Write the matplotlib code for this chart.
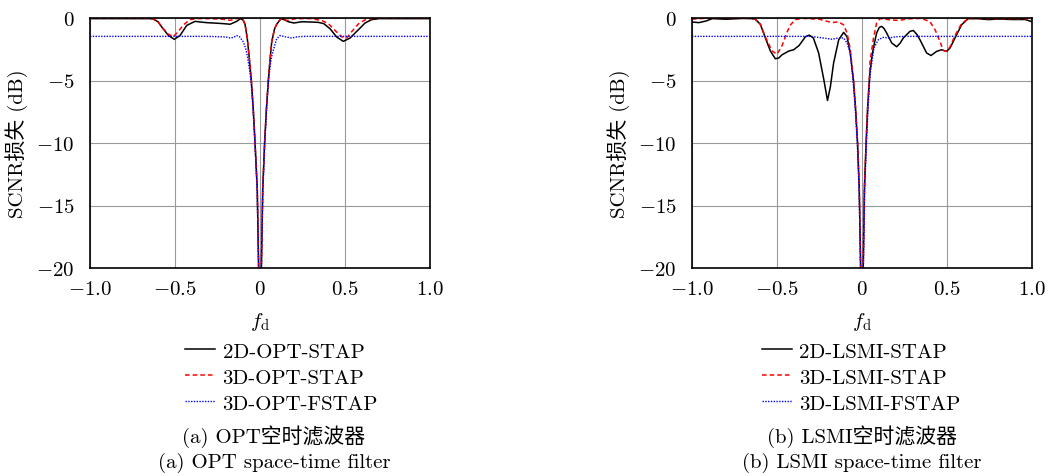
import matplotlib
matplotlib.use("Agg")
import matplotlib.pyplot as plt

plt.rcParams['mathtext.fontset'] = 'cm'
plt.rcParams['font.family'] = ['cmr10', 'Noto Sans CJK SC', 'DejaVu Sans']
plt.rcParams['axes.unicode_minus'] = False

# ---------------- data ----------------
xticks = [-1.0, -0.5, 0.0, 0.5, 1.0]
xtick_labels = [r'$-1.0$', r'$-0.5$', r'$0$', r'$0.5$', r'$1.0$']
yticks = [0, -5, -10, -15, -20]
ytick_labels = [r'$0$', r'$-5$', r'$-10$', r'$-15$', r'$-20$']

# (a) OPT
opt2d_f = [-1.0, -0.8, -0.65, -0.628, -0.6, -0.578, -0.539, -0.504, -0.47, -0.431, -0.382,
           -0.316, -0.25, -0.216, -0.176, -0.137, -0.115, -0.1, -0.088, -0.075, -0.063, -0.051,
           -0.04, -0.029, -0.016, -0.008, -0.003, 0.003, 0.008, 0.016, 0.027, 0.038, 0.049,
           0.058, 0.069, 0.085, 0.098, 0.124, 0.145, 0.167, 0.2, 0.245, 0.3, 0.343, 0.375,
           0.412, 0.451, 0.49, 0.53, 0.569, 0.618, 0.657, 0.7, 0.8, 1.0]
opt2d_db = [-0.05, -0.05, -0.05, -0.08, -0.3, -0.72, -1.39, -1.71, -1.39, -0.59, -0.27,
            -0.37, -0.42, -0.45, -0.5, -0.27, -0.05, -0.15, -0.5, -1.6, -3.2, -5.0,
            -7.2, -10.0, -13.7, -20.0, -30.0, -30.0, -20.0, -13.7, -10.0, -7.2, -5.0,
            -3.5, -1.9, -0.9, -0.5, -0.05, -0.15, -0.3, -0.4, -0.3, -0.32, -0.35, -0.45,
            -0.86, -1.52, -1.87, -1.6, -1.07, -0.4, -0.13, -0.05, -0.05, -0.05]

opt3d_f = [-1.0, -0.65, -0.628, -0.6, -0.578, -0.539, -0.51, -0.48, -0.45, -0.41, -0.37,
           -0.3, -0.22, -0.176, -0.14, -0.12, -0.1, -0.088, -0.075, -0.063, -0.051,
           -0.04, -0.029, -0.016, -0.008, -0.003, 0.003, 0.008, 0.016, 0.027, 0.038, 0.049,
           0.058, 0.069, 0.085, 0.098, 0.124, 0.16, 0.21, 0.3, 0.363, 0.402, 0.44, 0.48,
           0.51, 0.539, 0.578, 0.618, 0.657, 0.7, 1.0]
opt3d_db = [-0.02, -0.02, -0.08, -0.3, -0.72, -1.3, -1.5, -1.07, -0.54, -0.13, -0.05,
            -0.05, -0.1, -0.19, -0.05, -0.02, -0.15, -0.5, -1.6, -3.2, -5.0,
            -7.2, -10.0, -13.7, -20.0, -30.0, -30.0, -20.0, -13.7, -10.0, -7.2, -5.0,
            -3.5, -1.9, -0.9, -0.5, -0.02, -0.2, -0.05, -0.05, -0.2, -0.45, -0.98, -1.5,
            -1.6, -1.1, -0.48, -0.15, -0.05, -0.02, -0.02]

optf_f = [-1.0, -0.3, -0.2, -0.176, -0.155, -0.137, -0.12, -0.098, -0.085, -0.075, -0.063,
          -0.053, -0.041, -0.03, -0.017, -0.008, -0.003, 0.003, 0.008, 0.017, 0.028, 0.039,
          0.05, 0.06, 0.07, 0.078, 0.098, 0.118, 0.147, 0.186, 0.22, 0.26, 1.0]
optf_db = [-1.47, -1.47, -1.52, -1.6, -1.55, -1.4, -1.5, -1.92, -2.4, -3.0, -4.0,
           -5.0, -7.2, -10.0, -13.7, -20.0, -30.0, -30.0, -20.0, -13.7, -10.0, -7.2,
           -5.0, -3.8, -3.0, -2.6, -1.66, -1.4, -1.5, -1.6, -1.5, -1.47, -1.47]

# (b) LSMI
lsmi2d_f = [-1.0, -0.96, -0.92, -0.88, -0.8, -0.7, -0.65, -0.628, -0.598, -0.569, -0.539,
            -0.51, -0.49, -0.47, -0.43, -0.402, -0.37, -0.333, -0.31, -0.286, -0.255, -0.225,
            -0.203, -0.186, -0.167, -0.137, -0.108, -0.088, -0.069, -0.05, -0.038, -0.026,
            -0.016, -0.008, -0.003, 0.003, 0.007, 0.014, 0.024, 0.033, 0.043, 0.047, 0.057,
            0.067, 0.086, 0.102, 0.116, 0.13, 0.145, 0.175, 0.204, 0.225, 0.243, 0.282, 0.302,
            0.322, 0.341, 0.38, 0.406, 0.439, 0.468, 0.498, 0.518, 0.547, 0.586, 0.625, 0.68,
            0.743, 0.8, 0.88, 0.96, 1.0]
lsmi2d_db = [-0.32, -0.37, -0.25, -0.05, -0.1, -0.03, -0.05, -0.1, -0.5, -1.57, -2.64,
             -3.26, -3.2, -2.94, -2.64, -2.54, -2.2, -1.5, -1.37, -1.6, -2.8, -4.9,
             -6.6, -5.5, -3.6, -1.74, -1.15, -1.5, -2.8, -5.0, -7.2, -10.0,
             -13.7, -20.0, -30.0, -30.0, -20.0, -13.7, -10.0, -7.2, -5.0, -4.3, -3.2,
             -2.4, -1.2, -0.75, -0.67, -0.85, -1.2, -2.0, -2.3, -2.0, -1.6, -1.07, -1.0,
             -1.3, -1.74, -2.8, -3.0, -2.67, -2.54, -2.67, -2.4, -1.6, -0.54, -0.05, -0.05,
             -0.13, -0.08, -0.12, -0.12, -0.3]

lsmi3d_f = [-1.0, -0.96, -0.9, -0.65, -0.628, -0.598, -0.569, -0.529, -0.5, -0.47, -0.44,
            -0.42, -0.392, -0.35, -0.25, -0.176, -0.14, -0.108, -0.088, -0.069, -0.05, -0.038,
            -0.026, -0.016, -0.008, -0.003, 0.003, 0.007, 0.014, 0.024, 0.033, 0.043, 0.047,
            0.067, 0.086, 0.106, 0.155, 0.214, 0.27, 0.35, 0.4, 0.43, 0.459, 0.478, 0.498,
            0.518, 0.547, 0.586, 0.625, 0.8, 0.96, 1.0]
lsmi3d_db = [-0.1, -0.05, -0.02, -0.03, -0.1, -0.5, -1.5, -2.64, -2.9, -2.2, -1.1,
             -0.54, -0.13, -0.03, -0.1, -0.37, -0.3, -0.55, -1.2, -2.5, -5.0, -7.2,
             -10.0, -13.7, -20.0, -30.0, -30.0, -20.0, -13.7, -10.0, -7.2, -5.0, -3.5,
             -1.66, -0.4, -0.05, -0.13, -0.2, -0.07, -0.03, -0.3, -0.94, -1.9, -2.6, -2.67,
             -2.3, -1.4, -0.45, -0.05, -0.05, -0.05, -0.13]

lsmif_f = [-1.0, -0.3, -0.176, -0.14, -0.108, -0.088, -0.069, -0.053, -0.04, -0.028,
           -0.017, -0.008, -0.003, 0.003, 0.008, 0.016, 0.026, 0.036, 0.045, 0.05, 0.07,
           0.096, 0.124, 0.155, 0.2, 0.25, 1.0]
lsmif_db = [-1.47, -1.47, -1.7, -1.6, -1.6, -2.0, -2.8, -5.0, -7.2, -10.0,
            -13.7, -20.0, -30.0, -30.0, -20.0, -13.7, -10.0, -7.2, -5.0, -4.3, -2.4,
            -1.74, -1.55, -1.6, -1.5, -1.47, -1.47]

panels = [
    dict(series=[(opt2d_f, opt2d_db, '2D-OPT-STAP'),
                 (opt3d_f, opt3d_db, '3D-OPT-STAP'),
                 (optf_f, optf_db, '3D-OPT-FSTAP')],
         cap1='(a) OPT空时滤波器', cap2='(a) OPT space-time filter'),
    dict(series=[(lsmi2d_f, lsmi2d_db, '2D-LSMI-STAP'),
                 (lsmi3d_f, lsmi3d_db, '3D-LSMI-STAP'),
                 (lsmif_f, lsmif_db, '3D-LSMI-FSTAP')],
         cap1='(b) LSMI空时滤波器', cap2='(b) LSMI space-time filter'),
]

styles = [dict(color='black', lw=1.1, ls='-'),
          dict(color='red', lw=1.1, ls=(0, (3, 2))),
          dict(color='blue', lw=1.0, ls=(0, (1, 1)))]

W, H = 1050, 477
fig = plt.figure(figsize=(W / 100, H / 100), dpi=100)

axes_px = [(90, 19, 340, 250), (692, 19, 340, 250)]
legend_x = [185, 762]
caption_cx = [274, 862]
FS = 15

for p, (x0, y0, w, h), lx, cx in zip(panels, axes_px, legend_x, caption_cx):
    ax = fig.add_axes([x0 / W, 1 - (y0 + h) / H, w / W, h / H])
    for (f, d, lab), st in zip(p['series'], styles):
        ax.plot(f, d, label=lab, **st)
    ax.set_xlim(-1, 1)
    ax.set_ylim(-20, 0)
    ax.set_xticks(xticks)
    ax.set_xticklabels(xtick_labels)
    ax.set_yticks(yticks)
    ax.set_yticklabels(ytick_labels)
    ax.tick_params(axis='x', length=0, pad=9, labelsize=FS)
    ax.tick_params(axis='y', length=0, pad=11, labelsize=FS)
    ax.grid(True, color='#9a9a9a', lw=0.8)
    ax.set_axisbelow(True)
    for s in ax.spines.values():
        s.set_linewidth(1.2)
    ax.set_xlabel(r'$f_\mathrm{d}$', fontsize=FS, labelpad=8)
    ax.set_ylabel('SCNR损失 (dB)', fontsize=FS, labelpad=6)
    fig.legend(handles=ax.get_lines(), loc='upper left',
               bbox_to_anchor=(lx / W, 1 - 343 / H), frameon=False,
               fontsize=FS, borderpad=0, borderaxespad=0, handlelength=1.45,
               handletextpad=0.35, labelspacing=0.36)
    fig.text(cx / W, 1 - 437 / H, p['cap1'], ha='center', va='center', fontsize=FS)
    fig.text(cx / W, 1 - 463 / H, p['cap2'], ha='center', va='center', fontsize=FS)

fig.savefig('out.png', dpi=100)
